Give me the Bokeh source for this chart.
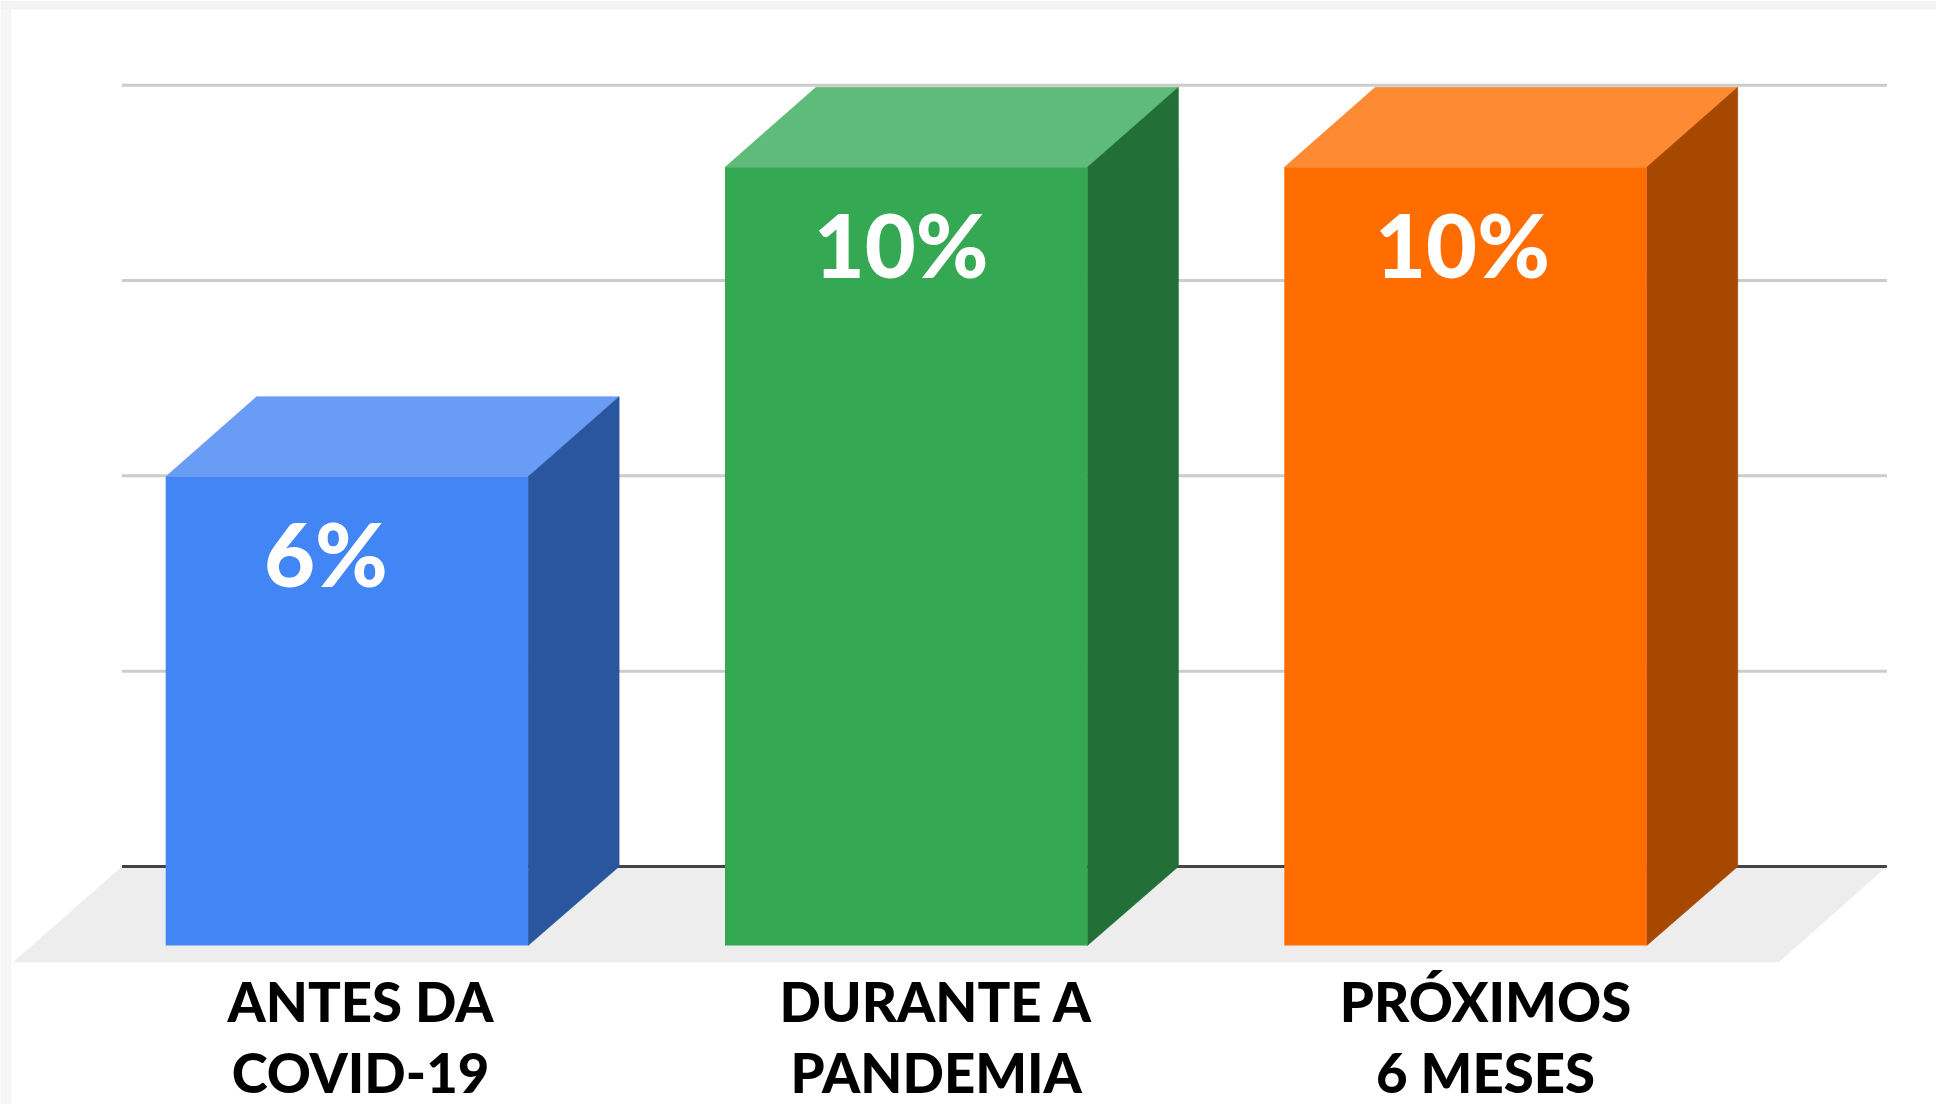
from bokeh.plotting import figure
from bokeh.models import Range1d
from bokeh.core.properties import value
from bokeh.embed import file_html
from bokeh.resources import INLINE

# --- data ---
categories = [["ANTES DA", "COVID-19"], ["DURANTE A", "PANDEMIA"], ["PRÓXIMOS", "6 MESES"]]
series_values = [6.0, 9.96, 9.96]
data_labels = ["6%", "10%", "10%"]
grid_values = [0, 2.5, 5, 7.5, 10]
front_colors = ["#4285F4", "#34A853", "#FF6D01"]
top_colors = ["#699CF5", "#5FBB79", "#FF8A34"]
side_colors = ["#2A56A0", "#226F37", "#A64800"]

# --- layout (pixels of the picture) ---
W, H = 1936, 1104
PX_PER_CAT = 559.3
PX_PER_VAL = 78.13
CAT0_PX = 346.4
FRONT0_PX = 945.0
DEPTH_X = 91.0 / PX_PER_CAT
DEPTH_Y = 80.0 / PX_PER_VAL
WALL_Y = 79.0 / PX_PER_VAL
HALF = 181.2 / PX_PER_CAT
BASE_SHIFT = 0.39   # drop of alphabetic baseline in the svg output, per font px

def cx(px):
    return (px - CAT0_PX) / PX_PER_CAT

def vy(px):
    return (FRONT0_PX - px) / PX_PER_VAL

p = figure(width=W, height=H, output_backend="svg", toolbar_location=None,
           x_range=Range1d(cx(0), cx(W)),
           y_range=Range1d(vy(H), vy(0)),
           min_border=0, outline_line_color=None, background_fill_color="white")
p.axis.visible = False
p.grid.visible = False

# faint frame seen at the picture's top and left edges
p.quad(left=cx(0), right=cx(10.7), bottom=vy(H), top=vy(0), fill_color="#F6F6F6", line_color=None)
p.quad(left=cx(0), right=cx(W), bottom=vy(9), top=vy(0), fill_color="#F3F3F3", line_color=None)

# floor
p.patch([cx(121.4), cx(1886.4), cx(1778.4), cx(12.5)],
        [WALL_Y, WALL_Y, vy(961.7), vy(961.7)], fill_color="#EDEDED", line_color=None)

# gridlines (drawn on the back wall)
for g in grid_values:
    is_base = g == 0
    p.segment(cx(121.4), WALL_Y + g, cx(1886.4), WALL_Y + g,
              line_color="#444444" if is_base else "#CCCCCC", line_width=3)

# 3-D bars
for i, v in enumerate(series_values):
    l, r = i - HALF, i + HALF
    p.patch([l, r, r + DEPTH_X, l + DEPTH_X], [v, v, v + DEPTH_Y, v + DEPTH_Y],
            fill_color=top_colors[i], line_color=top_colors[i], line_width=0.6)
    p.patch([r, r + DEPTH_X, r + DEPTH_X, r], [v, v + DEPTH_Y, WALL_Y, 0],
            fill_color=side_colors[i], line_color=side_colors[i], line_width=0.6)
    p.quad(left=l, right=r, bottom=0, top=v, fill_color=front_colors[i], line_color=None)

# data labels, placed relative to each bar
LABEL_DX = [-21.0, -5.0, -3.0]
LABEL_DROP = 111.0
LABEL_SIZE = 88
for i, v in enumerate(series_values):
    p.text([i + LABEL_DX[i] / PX_PER_CAT], [v - (LABEL_DROP - BASE_SHIFT * LABEL_SIZE) / PX_PER_VAL],
           text=[data_labels[i]],
           text_font=value("Lato Black"), text_font_size=f"{LABEL_SIZE}px",
           text_color="white", text_align="center", text_baseline="alphabetic")

# category labels
CAT_DX = [13.6, 30.0, 20.0]
CAT_SIZE = 54.5
for i, lines in enumerate(categories):
    for text, ypx in zip(lines, [1022.0, 1092.5]):
        p.text([i + CAT_DX[i] / PX_PER_CAT], [vy(ypx - BASE_SHIFT * CAT_SIZE)], text=[text],
               text_font=value("Lato Black"), text_font_size=f"{CAT_SIZE}px",
               text_color="black", text_align="center", text_baseline="alphabetic")

open("out.html", "w").write(file_html(p, INLINE))
